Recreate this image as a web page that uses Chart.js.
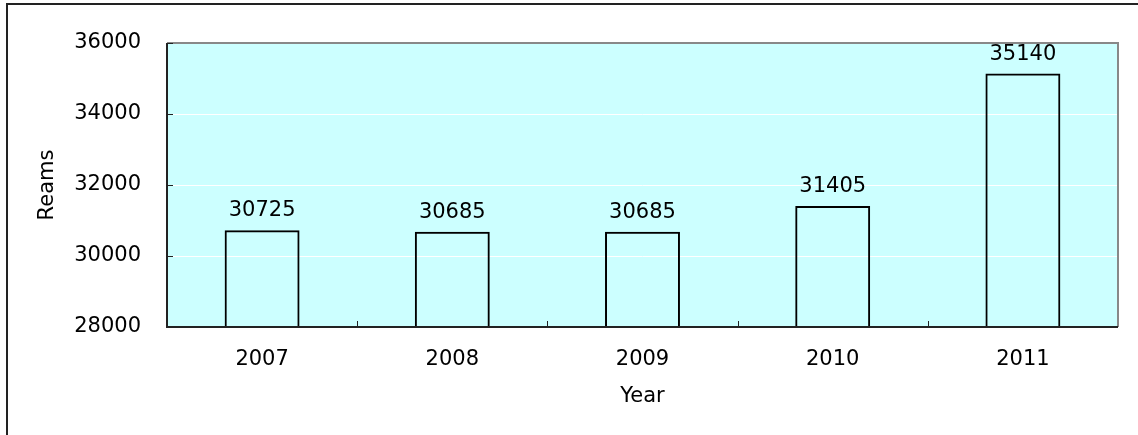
<!DOCTYPE html>
<html>
<head>
<meta charset="utf-8">
<script src="https://cdn.jsdelivr.net/npm/chart.js@4"></script>
<style>
html,body{margin:0;padding:0;background:#fff;}
#wrap{width:1138px;height:435px;position:relative;}
</style>
</head>
<body>
<div id="wrap"><canvas id="c" width="1138" height="435"></canvas></div>
<script>
const categories = ["2007", "2008", "2009", "2010", "2011"];
const reams = [30725, 30685, 30685, 31405, 35140];
const yTicks = [28000, 30000, 32000, 34000, 36000];
const xTitle = "Year";
const yTitle = "Reams";

const FONT = "'DejaVu Sans', Verdana, sans-serif";
const FSIZE = 21;

const framePlugin = {
  id: 'frame',
  beforeDraw(chart) {
    const {ctx, chartArea: a} = chart;
    ctx.save();
    ctx.fillStyle = '#ffffff';
    ctx.fillRect(0, 0, chart.width, chart.height);
    ctx.strokeStyle = '#222';
    ctx.lineWidth = 2;
    ctx.beginPath();
    ctx.moveTo(7, chart.height + 2);
    ctx.lineTo(7, 4);
    ctx.lineTo(chart.width + 2, 4);
    ctx.stroke();
    ctx.fillStyle = '#CCFFFF';
    ctx.fillRect(a.left, a.top, a.right - a.left, a.bottom - a.top);
    ctx.restore();
  },
  afterDatasetsDraw(chart) {
    const {ctx, chartArea: a, scales} = chart;
    const x = scales.x, y = scales.y;
    ctx.save();
    ctx.strokeStyle = '#888';
    ctx.lineWidth = 2;
    ctx.beginPath();
    ctx.moveTo(a.left, a.top);
    ctx.lineTo(a.right, a.top);
    ctx.lineTo(a.right, a.bottom);
    ctx.stroke();
    ctx.strokeStyle = '#222';
    ctx.beginPath();
    ctx.moveTo(a.left, a.top);
    ctx.lineTo(a.left, a.bottom);
    ctx.lineTo(a.right, a.bottom);
    ctx.stroke();
    ctx.lineWidth = 1;
    yTicks.forEach(v => {
      const py = Math.round(y.getPixelForValue(v)) + 0.5;
      ctx.beginPath();
      ctx.moveTo(a.left, py);
      ctx.lineTo(a.left + 6, py);
      ctx.stroke();
    });
    for (let i = 1; i < categories.length; i++) {
      const px = Math.round((x.getPixelForValue(i - 1) + x.getPixelForValue(i)) / 2) + 0.5;
      ctx.beginPath();
      ctx.moveTo(px, a.bottom);
      ctx.lineTo(px, a.bottom - 6);
      ctx.stroke();
    }
    ctx.fillStyle = '#000';
    ctx.font = FSIZE + 'px ' + FONT;
    ctx.textAlign = 'center';
    ctx.textBaseline = 'alphabetic';
    const meta = chart.getDatasetMeta(0);
    meta.data.forEach((bar, i) => {
      ctx.fillText(String(reams[i]), bar.x, bar.y - 14);
    });
    ctx.restore();
  }
};

new Chart(document.getElementById('c'), {
  type: 'bar',
  data: {
    labels: categories,
    datasets: [{
      data: reams,
      backgroundColor: 'rgba(0,0,0,0)',
      borderColor: '#000',
      borderWidth: 2,
      borderSkipped: false,
      barPercentage: 0.394,
      categoryPercentage: 1.0
    }]
  },
  options: {
    responsive: false,
    animation: false,
    devicePixelRatio: 1,
    layout: { padding: { top: 43, right: 20, left: 0, bottom: 0 } },
    plugins: { legend: { display: false }, tooltip: { enabled: false } },
    scales: {
      x: {
        grid: { display: false, drawTicks: false },
        border: { display: false },
        ticks: { color: '#000', font: { family: FONT, size: FSIZE }, padding: 20, maxRotation: 0 },
        title: { display: true, text: xTitle, color: '#000', font: { family: FONT, size: FSIZE }, padding: { top: 0, bottom: 26 } },
        afterFit(s) { s.height = 108; }
      },
      y: {
        min: 28000, max: 36000,
        afterBuildTicks(s) { s.ticks = yTicks.map(v => ({ value: v })); },
        grid: {
          drawTicks: false,
          color: ctx => (ctx.tick && (ctx.tick.value === 28000 || ctx.tick.value === 36000)) ? 'rgba(0,0,0,0)' : '#ffffff',
          lineWidth: 1
        },
        border: { display: false },
        ticks: { color: '#000', font: { family: FONT, size: FSIZE }, padding: 26, callback: v => String(v) },
        title: { display: true, text: yTitle, color: '#000', font: { family: FONT, size: FSIZE }, padding: { top: 35, bottom: 0 } },
        afterFit(s) { s.width = 167; }
      }
    }
  },
  plugins: [framePlugin]
});
</script>
</body>
</html>
